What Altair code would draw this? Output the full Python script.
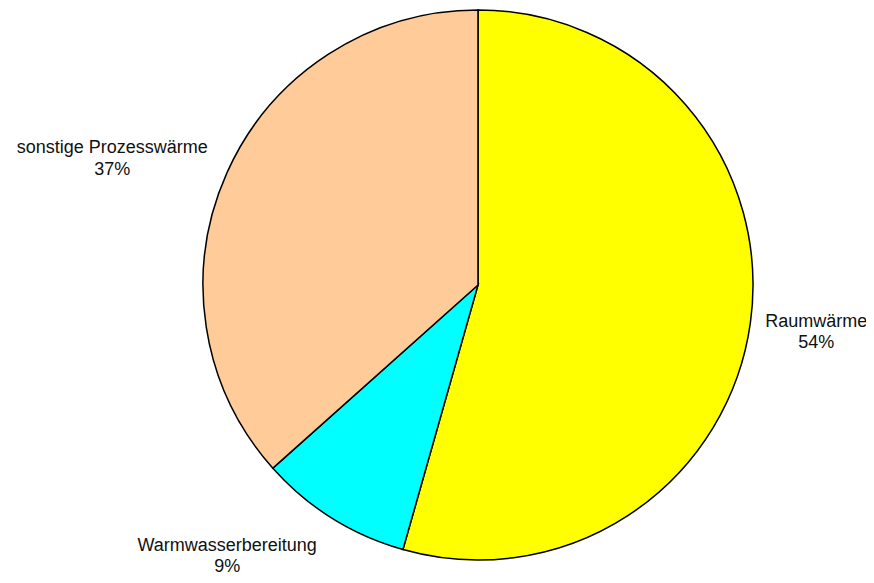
import altair as alt
import pandas as pd
import math

categories = ["Raumwärme", "Warmwasserbereitung", "sonstige Prozesswärme"]
shares = [54.4, 9.0, 36.6]
colors = ["#FFFF00", "#00FFFF", "#FFCC99"]

df = pd.DataFrame({"cat": categories, "value": shares, "idx": list(range(len(categories)))})

CX, CY, R = 470, 277, 275
theta_scale = alt.Scale(domain=[0, 100], range=[0, 2 * math.pi])

base = (
    alt.Chart(df)
    .transform_window(cum="sum(value)", sort=[alt.SortField("idx")], frame=[None, 0])
    .transform_calculate(
        start="datum.cum - datum.value",
        mid="datum.cum - datum.value / 2",
        label="[datum.cat, format(datum.value, '.0f') + '%']",
    )
)

arcs = base.mark_arc(stroke="black", strokeWidth=1.5, outerRadius=R).encode(
    theta=alt.Theta("start:Q", scale=theta_scale),
    theta2="cum:Q",
    color=alt.Color("cat:N", scale=alt.Scale(domain=categories, range=colors), legend=None),
    x=alt.value(CX),
    y=alt.value(CY),
)

# label nudges (dx, dy) relative to a point just outside the slice's mid-angle
nudges = {
    "Raumwärme": (51, 2),
    "Warmwasserbereitung": (-97, 20),
    "sonstige Prozesswärme": (-101, -13),
}

layers = [arcs]
for c in categories:
    dx, dy = nudges[c]
    layers.append(
        base.transform_filter(alt.datum.cat == c)
        .mark_text(
            radius=290,
            align="center",
            baseline="alphabetic",
            font="Liberation Sans",
            fontSize=18,
            lineHeight=21.5,
            color="#111111",
            dx=dx,
            dy=dy,
        )
        .encode(
            theta=alt.Theta("mid:Q", scale=theta_scale),
            text="label:N",
            x=alt.value(CX),
            y=alt.value(CY),
        )
    )

chart = (
    alt.layer(*layers)
    .properties(width=858, height=567, padding=0, autosize="none")
    .configure_view(stroke=None)
)

chart.save("out.html", embed_options={"renderer": "svg", "actions": False})
